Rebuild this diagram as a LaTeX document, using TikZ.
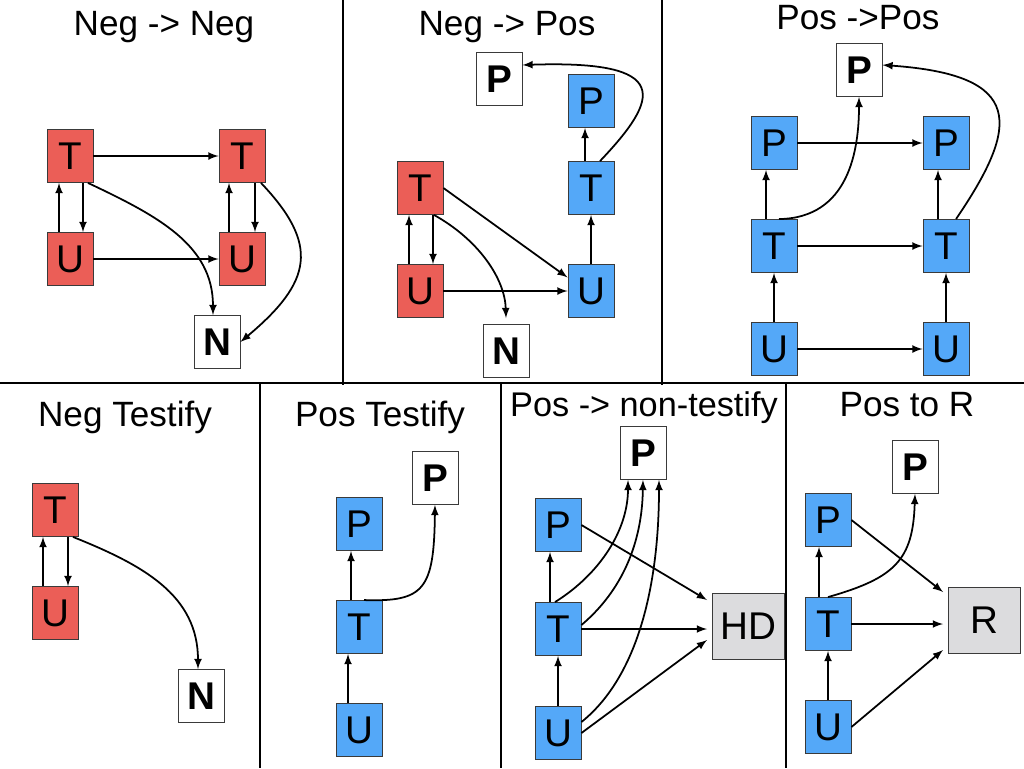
\documentclass[tikz,border=0pt]{standalone}
\usepackage{fontspec}
\setmainfont{Liberation Sans}
\definecolor{negred}{HTML}{EB5E57}
\definecolor{posblue}{HTML}{54A8F8}
\definecolor{othergray}{HTML}{DCDCDE}
\definecolor{boxline}{HTML}{3A3A3A}
\tikzset{
  var/.style={draw=boxline, line width=0.5pt, minimum width=0.92cm, minimum height=1.06cm,
    inner sep=0pt, font=\fontsize{22}{24}\selectfont},
  negvar/.style={var, fill=negred},
  posvar/.style={var, fill=posblue},
  outcome/.style={var, fill=white, font=\fontsize{22}{24}\selectfont\bfseries},
  other/.style={draw=boxline, line width=0.5pt, fill=othergray, minimum width=1.44cm,
    minimum height=1.32cm, outer sep=0.1cm, font=\fontsize{22}{24}\selectfont},
  heading/.style={font=\fontsize{20}{22}\selectfont},
  arr/.style={-latex, line width=1pt},
  divider/.style={line width=1.2pt}
}
\begin{document}
\begin{tikzpicture}[x=0.02cm,y=-0.02cm]
\useasboundingbox (0,0) rectangle (1024,768);
% panel borders
\draw[divider] (0,383) -- (1024,383);
\draw[divider] (343,0) -- (343,385) (662,0) -- (662,385);
\draw[divider] (260,383) -- (260,768) (501,383) -- (501,768) (786,383) -- (786,768);

% Neg -> Neg
\node[heading] (h1) at (164,27) {Neg -> Neg};
\node[negvar] (T1) at (70,156) {T};
\node[negvar] (T2) at (242,156) {T};
\node[negvar] (U1) at (70,259) {U};
\node[negvar] (U2) at (242,259) {U};
\node[outcome] (N1) at (217,342) {N};
\draw[arr] (T1) -- (T2);
\draw[arr] (U1) -- (U2);
\draw[arr] ([xshift=-0.22cm]U1.north) -- ([xshift=-0.22cm]T1.south);
\draw[arr] ([xshift=0.26cm]T1.south) -- ([xshift=0.26cm]U1.north);
\draw[arr] ([xshift=-0.26cm]U2.north) -- ([xshift=-0.26cm]T2.south);
\draw[arr] ([xshift=0.26cm]T2.south) -- ([xshift=0.26cm]U2.north);
\draw[arr] ([xshift=0.36cm]T1.south) .. controls (158,216) and (213,245) .. ([xshift=-0.08cm]N1.north);
\draw[arr] ([xshift=0.38cm]T2.south) .. controls (320,245) and (312,282) .. (N1.east);

% Neg -> Pos
\node[heading] (h2) at (507,27) {Neg -> Pos};
\node[outcome] (Pw2) at (499,79) {P};
\node[posvar] (Pb2) at (591,101) {P};
\node[posvar] (Tb2) at (591,188) {T};
\node[negvar] (Tr2) at (420,188) {T};
\node[negvar] (Ur2) at (420,291) {U};
\node[posvar] (Ub2) at (591,291) {U};
\node[outcome] (N2) at (506,351) {N};
\draw[arr] ([xshift=-0.22cm]Ur2.north) -- ([xshift=-0.22cm]Tr2.south);
\draw[arr] ([xshift=0.26cm]Tr2.south) -- ([xshift=0.26cm]Ur2.north);
\draw[arr] (Tr2.east) -- (Ub2.150);
\draw[arr] (Ur2) -- (Ub2);
\draw[arr] ([xshift=0.28cm]Tr2.south) .. controls (479,240) and (505,279) .. ([yshift=0.12cm]N2.north);
\draw[arr] (Ub2) -- (Tb2);
\draw[arr] ([xshift=-0.12cm]Tb2.north) -- ([xshift=-0.12cm]Pb2.south);
\draw[arr] ([xshift=0.18cm]Tb2.north) .. controls (660,98) and (673,60) .. ([yshift=0.28cm]Pw2.east);

% Pos -> Pos
\node[heading] (h3) at (858,18) {Pos ->Pos};
\node[outcome] (Pw3) at (859,70) {P};
\node[posvar] (Pl3) at (774,143) {P};
\node[posvar] (Pr3) at (946,143) {P};
\node[posvar] (Tl3) at (774,246) {T};
\node[posvar] (Tr3) at (946,246) {T};
\node[posvar] (Ul3) at (774,349) {U};
\node[posvar] (Ur3) at (946,349) {U};
\draw[arr] (Pl3) -- (Pr3);
\draw[arr] (Tl3) -- (Tr3);
\draw[arr] (Ul3) -- (Ur3);
\draw[arr] (Ul3) -- (Tl3);
\draw[arr] (Ur3) -- (Tr3);
\draw[arr] ([xshift=-0.16cm]Tl3.north) -- ([xshift=-0.16cm]Pl3.south);
\draw[arr] ([xshift=-0.16cm]Tr3.north) -- ([xshift=-0.16cm]Pr3.south);
\draw[arr] ([xshift=0.1cm]Tl3.north) .. controls (849,218) and (859,150) .. (Pw3.south);
\draw[arr] ([xshift=0.2cm]Tr3.north) .. controls (1020,125) and (1025,75) .. ([yshift=0.1cm]Pw3.east);

% Neg Testify
\node[heading] (h4) at (125,417) {Neg Testify};
\node[negvar] (T4) at (55,510) {T};
\node[negvar] (U4) at (55,613) {U};
\node[outcome] (N4) at (201,696) {N};
\draw[arr] ([xshift=-0.24cm]U4.north) -- ([xshift=-0.24cm]T4.south);
\draw[arr] ([xshift=0.26cm]T4.south) -- ([xshift=0.26cm]U4.north);
\draw[arr] ([xshift=0.36cm]T4.south) .. controls (143,565) and (198,595) .. ([xshift=-0.06cm]N4.north);

% Pos Testify
\node[heading] (h5) at (380,417) {Pos Testify};
\node[outcome] (Pw5) at (435,478) {P};
\node[posvar] (Pb5) at (359,524) {P};
\node[posvar] (T5) at (359,627) {T};
\node[posvar] (U5) at (359,730) {U};
\draw[arr] ([xshift=-0.22cm]U5.north) -- ([xshift=-0.22cm]T5.south);
\draw[arr] ([xshift=-0.16cm]T5.north) -- ([xshift=-0.16cm]Pb5.south);
\draw[arr] ([xshift=0.1cm]T5.north) .. controls (424,602) and (434,590) .. (Pw5.south);

% Pos -> non-testify
\node[heading, font=\fontsize{19.5}{21}\selectfont] (h6) at (644,408) {Pos -> non-testify};
\node[outcome] (Pw6) at (643,453) {P};
\node[posvar] (Pb6) at (558,525) {P};
\node[posvar] (T6) at (558,629) {T};
\node[posvar] (U6) at (558,733) {U};
\node[other] (HD) at (748,626) {HD};
\draw[arr] (U6) -- (T6);
\draw[arr] ([xshift=-0.16cm]T6.north) -- ([xshift=-0.16cm]Pb6.south);
\draw[arr] (Pb6.east) -- ([yshift=0.52cm]HD.west);
\draw[arr] (T6.east) -- (T6.east -| HD.west);
\draw[arr] (U6.east) -- ([yshift=-0.28cm]HD.west);
\draw[arr] ([xshift=-0.06cm]T6.north) .. controls (600,574) and (628,530) .. ([xshift=-0.3cm]Pw6.south);
\draw[arr] ([yshift=0.08cm]T6.east) .. controls (617,595) and (642,550) .. (Pw6.south);
\draw[arr] ([yshift=0.22cm]U6.east) .. controls (640,675) and (659,580) .. ([xshift=0.32cm]Pw6.south);

% Pos to R
\node[heading] (h7) at (907,405) {Pos to R};
\node[outcome] (Pw7) at (915,467) {P};
\node[posvar] (Pb7) at (828,520) {P};
\node[posvar] (T7) at (828,624) {T};
\node[posvar] (U7) at (828,727) {U};
\node[other] (R) at (984,620) {R};
\draw[arr] (U7) -- (T7);
\draw[arr] ([xshift=-0.18cm]T7.north) -- ([xshift=-0.18cm]Pb7.south);
\draw[arr] (Pb7.east) -- ([yshift=-0.2cm]R.north west);
\draw[arr] (T7.east) -- (T7.east -| R.west);
\draw[arr] (U7.east) -- ([yshift=0.16cm]R.south west);
\draw[arr] (T7.north) .. controls (895,578) and (913,560) .. (Pw7.south);
\end{tikzpicture}
\end{document}
